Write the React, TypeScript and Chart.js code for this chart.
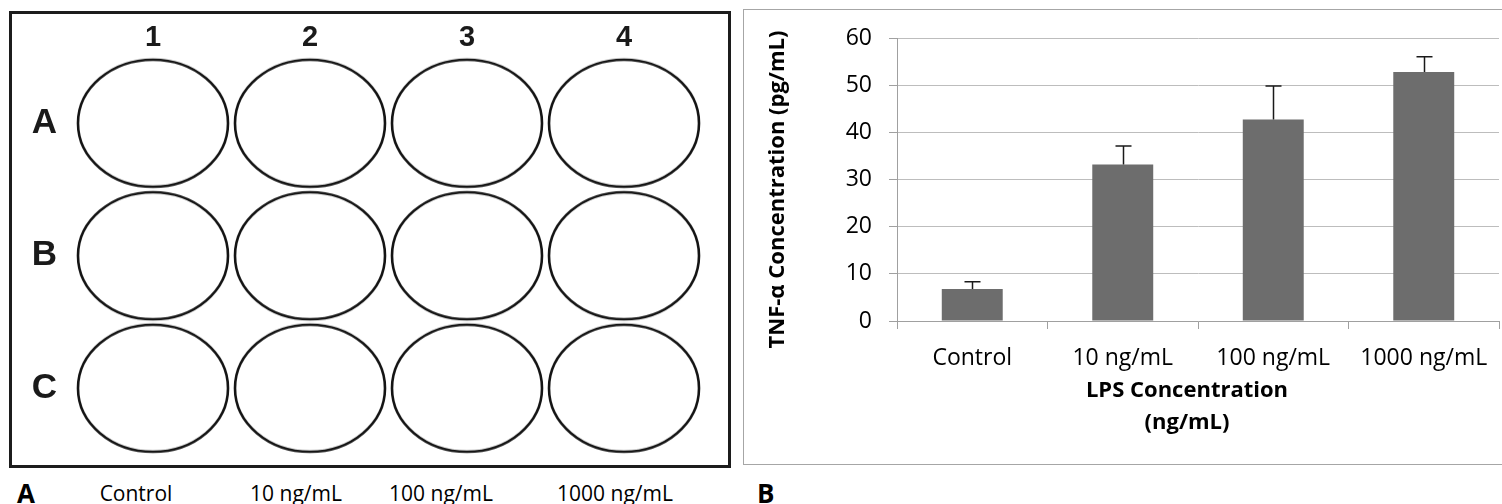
import React, { useEffect, useRef } from 'react';
import { Chart, registerables } from 'chart.js';

Chart.register(...registerables);

// ---- Panel A (plate layout) ----
const plateColumns = ['1', '2', '3', '4'];
const plateRows = ['A', 'B', 'C'];
const plateDoseLabels = ['Control', '10 ng/mL', '100 ng/mL', '1000 ng/mL'];

// ---- Panel B (bar chart) ----
const categories = ['Control', '10 ng/mL', '100 ng/mL', '1000 ng/mL'];
const tnfMeans = [6.8, 33.2, 42.7, 52.8];
const tnfErrors = [1.5, 3.9, 7.1, 3.2];
const yMin = 0;
const yMax = 60;
const yStep = 10;
const yTitle = 'TNF-α Concentration (pg/mL)';
const xTitleLines = ['LPS Concentration', '(ng/mL)'];

const FONT = "'Open Sans', 'DejaVu Sans', sans-serif";
const PLATE_FONT = "'Liberation Sans', Arial, sans-serif";

function makeWellImage(): HTMLCanvasElement {
  const c = document.createElement('canvas');
  c.width = 156;
  c.height = 133;
  const ctx = c.getContext('2d')!;
  ctx.strokeStyle = '#141414';
  ctx.lineWidth = 2.6;
  ctx.beginPath();
  ctx.ellipse(78, 66.5, 75, 63.5, 0, 0, Math.PI * 2);
  ctx.stroke();
  return c;
}

function PlateChart() {
  const ref = useRef<HTMLCanvasElement | null>(null);
  useEffect(() => {
    if (!ref.current) return;
    const well = makeWellImage();
    const wells = plateRows.flatMap((r) => plateColumns.map((c) => ({ x: c, y: r })));
    const chart = new Chart(ref.current, {
      type: 'scatter',
      data: {
        datasets: [
          {
            data: wells as any,
            pointStyle: well as any,
            pointRadius: 3,
            pointHoverRadius: 3,
          },
        ],
      },
      options: {
        animation: false,
        responsive: false,
        events: [],
        layout: { padding: { top: 0, left: 0, right: 37.5, bottom: 15.5 } },
        plugins: { legend: { display: false }, tooltip: { enabled: false } },
        scales: {
          x: {
            type: 'category',
            labels: plateColumns,
            position: 'top',
            offset: true,
            grid: { display: false, drawTicks: false },
            border: { display: false },
            ticks: {
              padding: 2,
              color: '#1a1a1a',
              font: { family: PLATE_FONT, weight: 'bold', size: 29 },
            },
            afterFit: (s: any) => {
              s.height = 57;
              s.paddingLeft = 0;
              s.paddingRight = 0;
            },
          },
          y: {
            type: 'category',
            labels: plateRows,
            offset: true,
            grid: { display: false, drawTicks: false },
            border: { display: false },
            ticks: {
              padding: 17.5,
              color: '#1a1a1a',
              font: { family: PLATE_FONT, weight: 'bold', size: 35 },
            },
            afterFit: (s: any) => {
              s.width = 74.5;
              s.paddingTop = 0;
              s.paddingBottom = 0;
            },
          },
        },
      },
    });
    return () => chart.destroy();
  }, []);
  return (
    <canvas
      ref={ref}
      width={740}
      height={470}
      style={{ position: 'absolute', left: 0, top: 0, width: 740, height: 470 }}
    />
  );
}

const errorBarPlugin = {
  id: 'errorBars',
  afterDatasetsDraw(chart: any) {
    const meta = chart.getDatasetMeta(0);
    const y = chart.scales.y;
    const ctx = chart.ctx;
    ctx.save();
    ctx.strokeStyle = '#1a1a1a';
    ctx.lineWidth = 1.5;
    meta.data.forEach((bar: any, i: number) => {
      const x = Math.round(bar.x) + 0.5;
      const yTop = y.getPixelForValue(tnfMeans[i] + tnfErrors[i]);
      const yBase = y.getPixelForValue(tnfMeans[i]);
      ctx.beginPath();
      ctx.moveTo(x, yBase);
      ctx.lineTo(x, yTop);
      ctx.moveTo(x - 8, yTop);
      ctx.lineTo(x + 8, yTop);
      ctx.stroke();
    });
    ctx.restore();
  },
};

const axisTitlePlugin = {
  id: 'axisTitles',
  afterDraw(chart: any) {
    const ctx = chart.ctx;
    const area = chart.chartArea;
    ctx.save();
    ctx.fillStyle = '#000';
    ctx.font = `bold 22px ${FONT}`;
    ctx.textAlign = 'center';
    ctx.textBaseline = 'middle';
    // y title
    ctx.save();
    ctx.translate(34, (area.top + area.bottom) / 2 + 10);
    ctx.rotate(-Math.PI / 2);
    ctx.fillText(yTitle, 0, 0);
    ctx.restore();
    // x title
    const cx = (area.left + area.right) / 2 - 11;
    xTitleLines.forEach((line, i) => {
      ctx.fillText(line, cx, area.bottom + 70 + i * 32);
    });
    ctx.restore();
  },
};

function BarChart() {
  const ref = useRef<HTMLCanvasElement | null>(null);
  useEffect(() => {
    if (!ref.current) return;
    const chart = new Chart(ref.current, {
      type: 'bar',
      data: {
        labels: categories,
        datasets: [
          {
            data: tnfMeans,
            backgroundColor: '#6d6d6d',
            borderWidth: 0,
            barPercentage: 0.405,
            categoryPercentage: 1,
          },
        ],
      },
      options: {
        animation: false,
        responsive: false,
        events: [],
        layout: { padding: { top: 28, right: 2, left: 0, bottom: 0 } },
        plugins: { legend: { display: false }, tooltip: { enabled: false } },
        scales: {
          x: {
            offset: true,
            grid: {
              display: true,
              drawOnChartArea: false,
              drawTicks: true,
              tickLength: 8,
              offset: true,
              tickColor: '#a0a0a0',
            },
            border: { display: true, color: '#a0a0a0', width: 1 },
            ticks: {
              padding: 16,
              color: '#000',
              font: { family: FONT, size: 23 },
              maxRotation: 0,
            },
            afterFit: (s: any) => {
              s.height = 143;
              s.paddingLeft = 0;
              s.paddingRight = 0;
            },
          },
          y: {
            min: yMin,
            max: yMax,
            ticks: {
              stepSize: yStep,
              padding: 17,
              color: '#000',
              font: { family: FONT, size: 23 },
            },
            grid: {
              color: '#bdbdbd',
              tickColor: '#a0a0a0',
              tickLength: 8,
              lineWidth: 1,
            },
            border: { display: true, color: '#a0a0a0', width: 1 },
            afterFit: (s: any) => {
              s.width = 153;
              s.paddingTop = 0;
              s.paddingBottom = 0;
            },
          },
        },
      },
      plugins: [errorBarPlugin, axisTitlePlugin],
    });
    return () => chart.destroy();
  }, []);
  return (
    <canvas
      ref={ref}
      width={757}
      height={454}
      style={{ position: 'absolute', left: 744, top: 10, width: 757, height: 454 }}
    />
  );
}

export default function App() {
  const doseCenters = [136, 296, 441, 615];
  const labelStyle: React.CSSProperties = {
    position: 'absolute',
    top: 493,
    transform: 'translate(-50%, -50%)',
    fontFamily: FONT,
    fontSize: 21,
    color: '#000',
    whiteSpace: 'nowrap',
    lineHeight: 1,
  };
  const panelLetter: React.CSSProperties = {
    position: 'absolute',
    top: 493,
    transform: 'translateY(-50%)',
    fontFamily: FONT,
    fontWeight: 'bold',
    fontSize: 26,
    color: '#000',
    lineHeight: 1,
  };
  return (
    <div
      style={{
        position: 'absolute',
        left: 0,
        top: 0,
        width: 1502,
        height: 504,
        overflow: 'hidden',
        background: '#fff',
      }}
    >
      <div
        style={{
          position: 'absolute',
          left: 9,
          top: 11,
          width: 716,
          height: 451,
          border: '3px solid #1c1c1c',
        }}
      />
      <PlateChart />
      {plateDoseLabels.map((t, i) => (
        <span key={t} style={{ ...labelStyle, left: doseCenters[i] }}>
          {t}
        </span>
      ))}
      <span style={{ ...panelLetter, left: 17 }}>A</span>
      <span style={{ ...panelLetter, left: 757 }}>B</span>
      <div
        style={{
          position: 'absolute',
          left: 743,
          top: 9,
          width: 770,
          height: 454,
          borderTop: '1px solid #a6a6a6',
          borderBottom: '1px solid #a6a6a6',
          borderLeft: '1px solid #a6a6a6',
        }}
      />
      <BarChart />
    </div>
  );
}
